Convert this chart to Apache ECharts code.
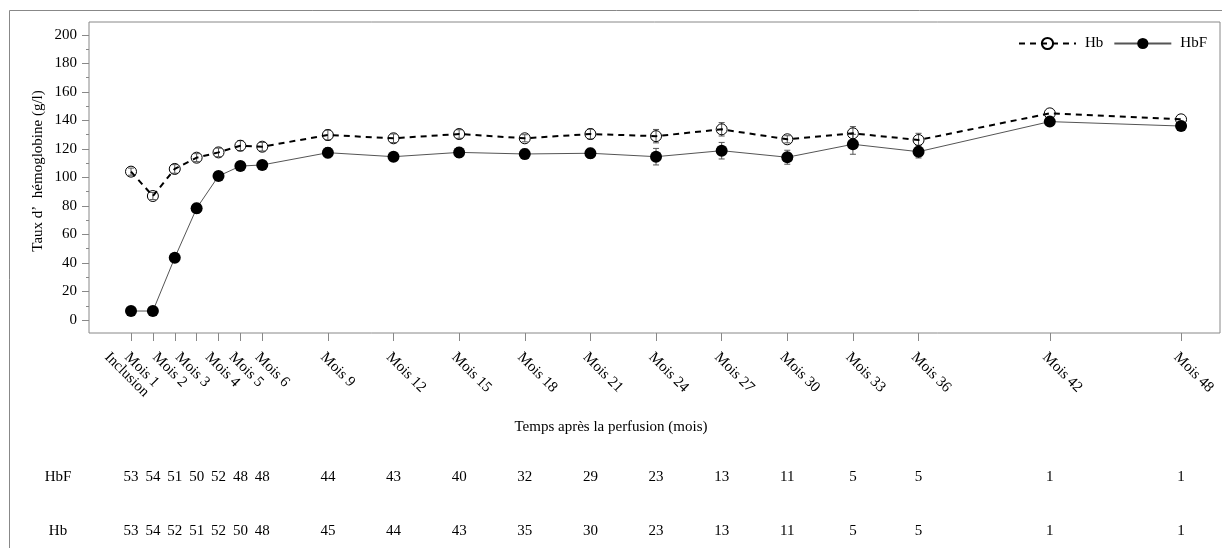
<!DOCTYPE html>
<html><head><meta charset="utf-8">
<script src="https://cdn.jsdelivr.net/npm/echarts@6/dist/echarts.min.js"></script>
<style>html,body{margin:0;padding:0;background:#fff}#c{width:1222px;height:548px}</style>
</head><body><div id="c"></div>
<script>
// ---- data ----
const months = [0,1,2,3,4,5,6,9,12,15,18,21,24,27,30,33,36,42,48];
const tickLabels = ['Inclusion','Mois 1','Mois 2','Mois 3','Mois 4','Mois 5','Mois 6','Mois 9','Mois 12','Mois 15','Mois 18','Mois 21','Mois 24','Mois 27','Mois 30','Mois 33','Mois 36','Mois 42','Mois 48'];
const hbMean  = [104.1, 87.0, 106.0, 113.9, 117.6, 122.3, 121.6, 129.8, 127.5, 130.5, 127.5, 130.5, 129.0, 133.8, 126.8, 131.0, 126.3, 145.0, 140.8];
const hbErr   = [2.5, 2.5, 3.0, 2.8, 3.0, 3.5, 3.0, 3.5, 3.0, 3.0, 2.5, 3.5, 4.7, 4.7, 2.5, 4.7, 4.7, 0, 0];
const hbfMean = [6.3, 6.3, 43.7, 78.4, 101.0, 108.0, 108.8, 117.4, 114.6, 117.6, 116.5, 117.0, 114.6, 118.8, 114.2, 123.3, 118.1, 139.2, 136.1];
const hbfErr  = [1.5, 1.5, 2.5, 3.5, 3.0, 3.0, 2.5, 3.5, 3.0, 3.5, 3.5, 3.5, 5.8, 5.8, 4.9, 7.0, 4.4, 0, 0];
const nHbF = [53,54,51,50,52,48,48,44,43,40,32,29,23,13,11,5,5,1,1];
const nHb  = [53,54,52,51,52,50,48,45,44,43,35,30,23,13,11,5,5,1,1];
const yTicks = [0,20,40,60,80,100,120,140,160,180,200];
const yMinorTicks = [10,30,50,70,90,110,130,150,170,190];
const labelGroups = [[0],[1],[2],[3],[4],[5],[6,9,12,15,18,21,24,27,30,33,36,42,48]];
const labelShifts = [-24,-26,-20,-19,-11,-9,-5];

// ---- layout ----
const FONT = 'Liberation Serif';
const xMin = -1.92, xMax = 49.78, yMin = -9.12, yMax = 209.1;
const GRAY = '#888';

// rotated labels shifted horizontally: a blank first line moves the text
// perpendicular to its reading direction, the margin compensates vertically.
function labelAxis(vals, dx) {
  const lh = -2 * dx / 0.7071;
  return {
    type: 'value', min: xMin, max: xMax, gridIndex: 0, position: 'bottom', offset: 0,
    axisLine: {show: false, onZero: false}, axisTick: {show: false}, splitLine: {show: false},
    axisLabel: {
      customValues: vals, hideOverlap: false,
      formatter: v => '\n' + tickLabels[months.indexOf(v)],
      rotate: -45, align: 'left', verticalAlign: 'middle',
      lineHeight: lh, margin: 22 + dx,
      fontFamily: FONT, fontSize: 15, color: '#000'
    }
  };
}
function countAxis(counts, margin) {
  return {
    type: 'value', min: xMin, max: xMax, gridIndex: 0, position: 'bottom', offset: 0,
    axisLine: {show: false, onZero: false}, axisTick: {show: false}, splitLine: {show: false},
    axisLabel: {
      customValues: months, hideOverlap: false,
      formatter: v => String(counts[months.indexOf(v)]),
      align: 'center', verticalAlign: 'middle', margin: margin,
      fontFamily: FONT, fontSize: 15, color: '#000'
    }
  };
}
function errSeries(name, means, errs, color) {
  return {
    type: 'custom', name: name, silent: true, z: 1,
    xAxisIndex: 0, yAxisIndex: 0,
    data: months.map((m, i) => [m, means[i] - errs[i], means[i] + errs[i], errs[i]]),
    encode: {x: 0, y: [1, 2]},
    renderItem: function (params, api) {
      if (!api.value(3)) return null;
      const x = api.value(0);
      const lo = api.coord([x, api.value(1)]);
      const hi = api.coord([x, api.value(2)]);
      const w = 3;
      const st = {stroke: color, lineWidth: 1};
      return {type: 'group', children: [
        {type: 'line', shape: {x1: lo[0], y1: lo[1], x2: hi[0], y2: hi[1]}, style: st},
        {type: 'line', shape: {x1: lo[0] - w, y1: lo[1], x2: lo[0] + w, y2: lo[1]}, style: st},
        {type: 'line', shape: {x1: hi[0] - w, y1: hi[1], x2: hi[0] + w, y2: hi[1]}, style: st}
      ]};
    }
  };
}

const xAxes = [{
  type: 'value', min: xMin, max: xMax, gridIndex: 0, position: 'bottom',
  axisLine: {show: false, onZero: false}, splitLine: {show: false},
  axisTick: {show: true, customValues: months, length: 8, lineStyle: {color: GRAY, width: 1}},
  axisLabel: {show: false}
}];
labelGroups.forEach((g, i) => xAxes.push(labelAxis(g, labelShifts[i])));
xAxes.push(countAxis(nHbF, 144));
xAxes.push(countAxis(nHb, 198));

const option = {
  backgroundColor: '#fff',
  animation: false,
  grid: {left: 89, right: 2, top: 22, bottom: 215, show: true, borderColor: GRAY, borderWidth: 1,
         backgroundColor: 'transparent', containLabel: false, outerBoundsMode: 'none'},
  legend: {
    data: ['Hb', 'HbF'], right: 10, top: 31, itemWidth: 57, itemHeight: 14, itemGap: 10,
    textStyle: {fontFamily: FONT, fontSize: 15, color: '#000', padding: [0, 0, 2, 4]}
  },
  xAxis: xAxes,
  yAxis: [{
    type: 'value', min: yMin, max: yMax, position: 'left',
    axisLine: {show: false, onZero: false}, splitLine: {show: false},
    axisTick: {show: true, customValues: yTicks, length: 7, lineStyle: {color: GRAY}},
    axisLabel: {customValues: yTicks, margin: 12, fontFamily: FONT, fontSize: 15, color: '#000'}
  }, {
    type: 'value', min: yMin, max: yMax, position: 'left', offset: 0,
    axisLine: {show: false, onZero: false}, splitLine: {show: false},
    axisTick: {show: true, customValues: yMinorTicks, length: 3, lineStyle: {color: GRAY}},
    axisLabel: {show: false}
  }],
  graphic: [
    {type: 'rect', silent: true, shape: {x: 9.5, y: 10.5, width: 1300, height: 700},
     style: {fill: 'none', stroke: GRAY, lineWidth: 1}, z: -1},
    {type: 'text', x: 611, y: 427, style: {text: 'Temps après la perfusion (mois)', fontFamily: FONT, fontSize: 15, fill: '#000', align: 'center', verticalAlign: 'middle'}},
    {type: 'text', x: 38, y: 171, rotation: Math.PI / 2, style: {text: 'Taux d’  hémoglobine (g/l)', fontFamily: FONT, fontSize: 15, fill: '#000', align: 'center', verticalAlign: 'middle'}},
    {type: 'text', x: 58, y: 477, style: {text: 'HbF', fontFamily: FONT, fontSize: 15, fill: '#000', align: 'center', verticalAlign: 'middle'}},
    {type: 'text', x: 58, y: 531, style: {text: 'Hb', fontFamily: FONT, fontSize: 15, fill: '#000', align: 'center', verticalAlign: 'middle'}}
  ],
  series: [
    errSeries('HbF err', hbfMean, hbfErr, '#555'),
    errSeries('Hb err', hbMean, hbErr, '#555'),
    {
      name: 'HbF', type: 'line', xAxisIndex: 0, yAxisIndex: 0, z: 3,
      data: months.map((m, i) => [m, hbfMean[i]]),
      symbol: 'circle', symbolSize: 12,
      itemStyle: {color: '#000'},
      lineStyle: {color: '#555', width: 1}
    },
    {
      name: 'Hb', type: 'line', xAxisIndex: 0, yAxisIndex: 0, z: 4,
      data: months.map((m, i) => [m, hbMean[i]]),
      symbol: 'circle', symbolSize: 11,
      itemStyle: {color: 'rgba(0,0,0,0)', borderColor: '#000', borderWidth: 1},
      lineStyle: {color: '#000', width: 2, type: [6, 5]}
    }
  ]
};
const chart = echarts.init(document.getElementById('c'), null, {renderer: 'canvas'});
chart.setOption(option);
</script></body></html>
